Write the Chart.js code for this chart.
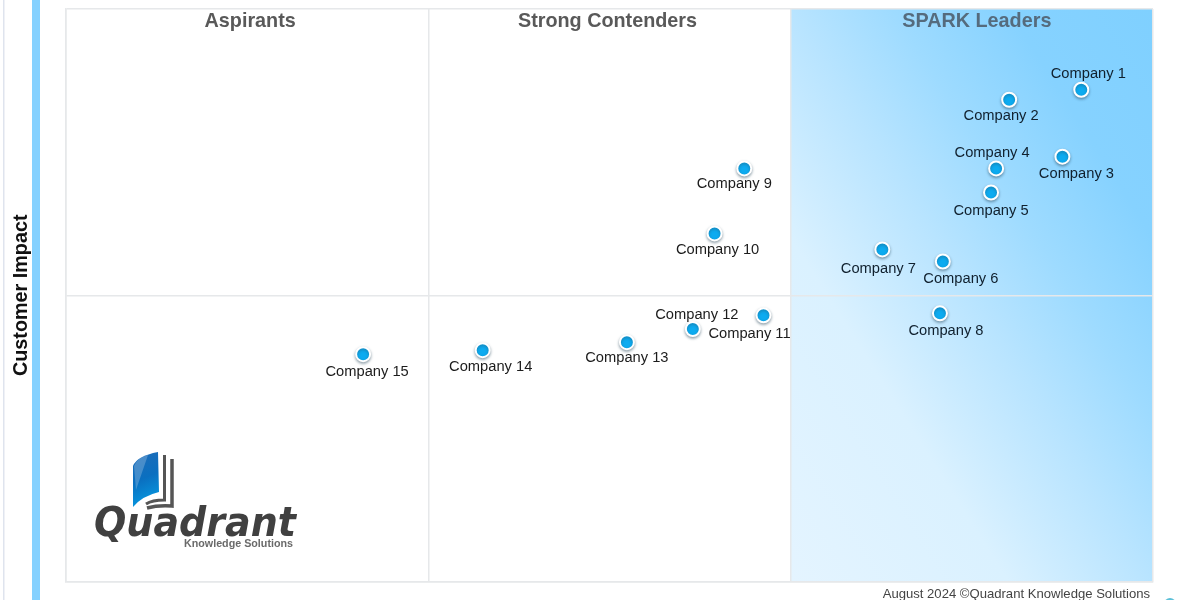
<!DOCTYPE html>
<html>
<head>
<meta charset="utf-8">
<style>html,body{margin:0;padding:0;background:#fff;overflow:hidden}canvas{display:block}</style>
<script src="https://cdn.jsdelivr.net/npm/chart.js@4/dist/chart.umd.min.js"></script>
</head>
<body>
<canvas id="c" width="1200" height="600"></canvas>
<script>
const companies = ["Company 1","Company 2","Company 3","Company 4","Company 5","Company 6","Company 7","Company 8","Company 9","Company 10","Company 11","Company 12","Company 13","Company 14","Company 15"];
const performance = [28.02,26.03,27.5,25.67,25.53,24.2,22.53,24.12,18.72,17.9,19.25,17.3,15.48,11.5,8.2];
const impact = [17.18,16.83,14.84,14.43,13.59,11.18,11.60,9.37,14.43,12.16,9.30,8.82,8.36,8.08,7.94];
const quadrants = ["Aspirants","Strong Contenders","SPARK Leaders"];
const yAxisTitle = "Customer Impact";
const footer = "August 2024 \u00A9Quadrant Knowledge Solutions";

const labelShift = [[7,-16],[-8,16],[14,17],[-4,-15],[0,18],[18,17],[-4,19],[6,18],[-10,16],[3,17],[-14,19],[4,-14],[0,16],[8,17],[4,18]];
const titleShift = [3,-2,5];
const SANS = '"Liberation Sans", Arial, sans-serif';

const backdrop = {
  id:'backdrop',
  beforeDraw(chart){
    const {ctx, chartArea:a, scales:{x}} = chart;
    ctx.save();
    ctx.fillStyle='#dfe4ee'; ctx.fillRect(3,0,1.5,600);
    ctx.fillStyle='#85d1ff'; ctx.fillRect(32,0,8,600);
    const l=x.getPixelForValue(20), r=a.right, w=r-l, h=a.bottom-a.top;
    const cx=(l+r)/2, cy=(a.top+a.bottom)/2, n=w*w+h*h;
    const hx=w*h*h/n, hy=h*w*w/n;
    const g=ctx.createLinearGradient(cx-hx,cy+hy,cx+hx,cy-hy);
    g.addColorStop(0,'#e4f4ff');
    g.addColorStop(0.3,'#daf1ff');
    g.addColorStop(0.5,'#b8e4ff');
    g.addColorStop(0.64,'#9edbff');
    g.addColorStop(0.8,'#86d2ff');
    g.addColorStop(1,'#7fd0ff');
    ctx.fillStyle=g; ctx.fillRect(l,a.top,w,h);
    ctx.restore();
  }
};

const annotate = {
  id:'annotate',
  beforeDatasetDraw(chart){
    const c=chart.ctx; c.save();
    c.shadowColor='rgba(40,70,90,0.45)'; c.shadowBlur=3; c.shadowOffsetY=1.5;
  },
  afterDatasetDraw(chart){ chart.ctx.restore(); },
  afterDraw(chart){
    const {ctx:c, chartArea:a, scales:{x}} = chart;
    c.save();
    c.font='bold 19.8px '+SANS; c.textAlign='center'; c.textBaseline='alphabetic';
    quadrants.forEach((q,i)=>{
      c.fillStyle= i==2 ? '#556b7d' : '#595959';
      const mid=(x.getPixelForValue(i*10)+x.getPixelForValue((i+1)*10))/2;
      c.fillText(q,mid+titleShift[i],a.top+17.5);
    });
    c.font='14.7px '+SANS; c.textBaseline='middle';
    const pts=chart.getDatasetMeta(0).data;
    companies.forEach((n,i)=>{
      c.fillStyle= pts[i].x>a.left+(a.right-a.left)*2/3 ? '#10202e' : '#1c1c1c';
      c.fillText(n,pts[i].x+labelShift[i][0],pts[i].y+labelShift[i][1]);
    });
    c.font='13.1px '+SANS; c.fillStyle='#444'; c.textAlign='right';
    c.fillText(footer,1150,594);
    c.fillStyle='#5cc0d8'; c.beginPath(); c.arc(1170,604,6,0,Math.PI*2); c.fill();
    const g=c.createLinearGradient(135,455,158,505);
    g.addColorStop(0,'#1d6cb8'); g.addColorStop(0.45,'#0a6fc0'); g.addColorStop(1,'#06a0e6');
    c.fillStyle=g; c.beginPath();
    c.moveTo(133,466); c.quadraticCurveTo(137,456,158,452); c.lineTo(159,492);
    c.quadraticCurveTo(142,496,133,507); c.closePath(); c.fill();
    c.fillStyle='rgba(255,255,255,.22)'; c.beginPath();
    c.moveTo(134,466); c.quadraticCurveTo(138,457,148,455); c.lineTo(136,490); c.closePath(); c.fill();
    c.strokeStyle='#555'; c.lineWidth=3; c.beginPath();
    c.moveTo(164.5,455); c.lineTo(164.5,500); c.quadraticCurveTo(152,500,146,504); c.stroke();
    c.lineWidth=3.5; c.beginPath();
    c.moveTo(172,459); c.lineTo(172,506); c.quadraticCurveTo(158,505,147,508); c.stroke();
    c.textAlign='left'; c.textBaseline='alphabetic';
    c.fillStyle='#404040'; c.font='italic bold 41px "DejaVu Sans", sans-serif';
    c.fillText('Quadrant',94,536,202);
    c.fillStyle='#6a6a6a'; c.font='bold 10.8px '+SANS;
    c.fillText('Knowledge Solutions',184,547,109);
    c.restore();
  }
};

new Chart(document.getElementById('c'),{
  type:'scatter',
  data:{datasets:[{
    data:performance.map((v,i)=>({x:v,y:impact[i]})),
    backgroundColor:'#0dabf0', borderColor:'#ffffff', borderWidth:2,
    pointRadius:7, pointHoverRadius:7
  }]},
  plugins:[backdrop,annotate],
  options:{
    responsive:false, animation:false, devicePixelRatio:1,
    layout:{padding:{left:0,top:7.5,right:47,bottom:0}},
    plugins:{legend:{display:false},tooltip:{enabled:false},title:{display:false}},
    scales:{
      x:{type:'linear',min:0,max:30,
        ticks:{stepSize:10,display:false},
        grid:{color:'#e6e8ea',lineWidth:1.5,drawTicks:false},
        border:{color:'#e6e8ea',width:1.5},
        afterFit(s){s.height=18.5;}},
      y:{type:'linear',min:0,max:20,
        ticks:{stepSize:10,display:false},
        grid:{color:'#e6e8ea',lineWidth:1.5,drawTicks:false},
        border:{color:'#e6e8ea',width:1.5},
        title:{display:true,text:yAxisTitle,color:'#111',font:{family:SANS,size:19.8,weight:'bold'},padding:{top:10,bottom:0}},
        afterFit(s){s.width=66;}}
    }
  }
});
</script>
</body>
</html>
